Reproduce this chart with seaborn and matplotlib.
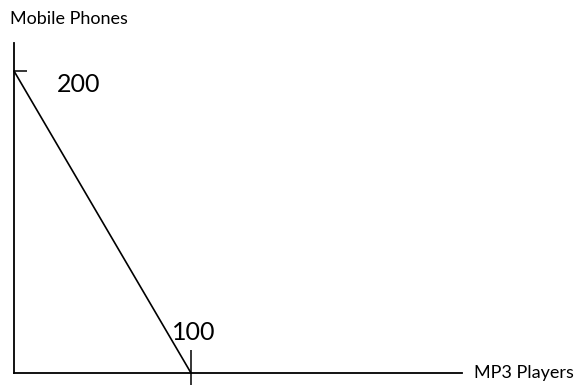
import numpy as np
import pandas as pd
import matplotlib
matplotlib.use("Agg")
import matplotlib.pyplot as plt
import seaborn as sns

# production possibilities frontier
mp3_players = [0, 100]
mobile_phones = [200, 0]
x_label = "MP3 Players"
y_label = "Mobile Phones"

df = pd.DataFrame({"mp3": mp3_players, "phones": mobile_phones})

sns.set_style("white")
plt.rcParams["font.family"] = ["Lato", "DejaVu Sans"]
plt.rcParams["text.color"] = "black"

fig = plt.figure(figsize=(5.82, 3.85), dpi=100)
ax = fig.add_axes([0, 0, 1, 1])

sns.lineplot(data=df, x="mp3", y="phones", color="black", linewidth=1.2, ax=ax)

# pixel scale: 100 units of x = 177px, 200 units of y = 302px
ax.set_xlim(-14 / 1.77, (582 - 14) / 1.77)
ax.set_ylim(-12 / 1.51, 373 / 1.51)

for s in ["top", "right"]:
    ax.spines[s].set_visible(False)
ax.spines["left"].set_position(("data", 0))
ax.spines["bottom"].set_position(("data", 0))
ax.spines["left"].set_bounds(0, 330 / 1.51)
ax.spines["bottom"].set_bounds(0, 448 / 1.77)
for s in ["left", "bottom"]:
    ax.spines[s].set_linewidth(1.3)
    ax.spines[s].set_color("black")

ax.set_xticks([max(mp3_players)])
ax.set_yticks([max(mobile_phones)])
ax.tick_params(axis="y", left=True, direction="in", length=9.5, width=1.1,
               color="black", labelleft=False)
ax.tick_params(axis="x", bottom=True, direction="inout", length=33, width=1.1,
               color="black", labelbottom=False)
ax.set_xlabel("")
ax.set_ylabel("")

ax.annotate(str(max(mobile_phones)), xy=(0, max(mobile_phones)), xytext=(43, -14),
            textcoords="offset pixels", ha="left", va="center", fontsize=18)
ax.annotate(str(max(mp3_players)), xy=(max(mp3_players), 0), xytext=(3, 40),
            textcoords="offset pixels", ha="center", va="center", fontsize=18)
ax.annotate(y_label, xy=(0, 330 / 1.51), xytext=(-4, 24),
            textcoords="offset pixels", ha="left", va="center", fontsize=13)
ax.annotate(x_label, xy=(448 / 1.77, 0), xytext=(12, 0),
            textcoords="offset pixels", ha="left", va="center", fontsize=13)

fig.savefig("out.png", dpi=100)
